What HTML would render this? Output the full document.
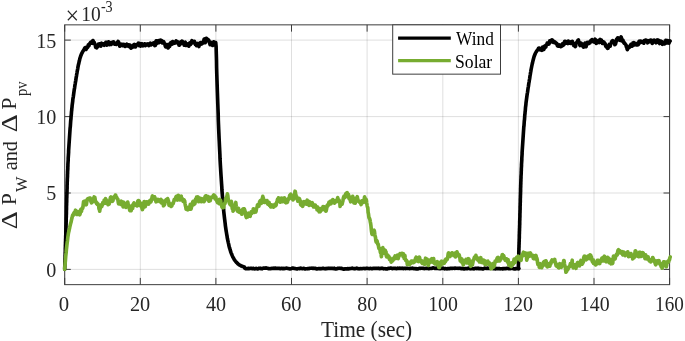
<!DOCTYPE html>
<html><head><meta charset="utf-8"><title>Wind and Solar</title>
<style>html,body{margin:0;padding:0;background:#fff}svg{display:block}</style></head>
<body>
<svg width="685" height="341" viewBox="0 0 685 341">
<rect width="685" height="341" fill="#fff"/>
<path d="M64.7,24.85 V284.7 M140.3,24.85 V284.7 M215.9,24.85 V284.7 M291.5,24.85 V284.7 M367.1,24.85 V284.7 M442.8,24.85 V284.7 M518.4,24.85 V284.7 M594.0,24.85 V284.7 M669.6,24.85 V284.7" stroke="#262626" stroke-opacity="0.15" stroke-width="1" fill="none"/>
<path d="M64.7,269.4 H669.6 M64.7,193.0 H669.6 M64.7,116.6 H669.6 M64.7,40.1 H669.6" stroke="#262626" stroke-opacity="0.15" stroke-width="1" fill="none"/>
<rect x="64.7" y="24.85" width="604.9" height="259.8" fill="none" stroke="#3c3c3c" stroke-width="1"/>
<path d="M64.7,284.7 v-6.8 M64.7,24.85 v6.8 M140.3,284.7 v-6.8 M140.3,24.85 v6.8 M215.9,284.7 v-6.8 M215.9,24.85 v6.8 M291.5,284.7 v-6.8 M291.5,24.85 v6.8 M367.1,284.7 v-6.8 M367.1,24.85 v6.8 M442.8,284.7 v-6.8 M442.8,24.85 v6.8 M518.4,284.7 v-6.8 M518.4,24.85 v6.8 M594.0,284.7 v-6.8 M594.0,24.85 v6.8 M669.6,284.7 v-6.8 M669.6,24.85 v6.8 M64.7,269.4 h6.1 M669.6,269.4 h-6.1 M64.7,193.0 h6.1 M669.6,193.0 h-6.1 M64.7,116.6 h6.1 M669.6,116.6 h-6.1 M64.7,40.1 h6.1 M669.6,40.1 h-6.1" stroke="#3c3c3c" stroke-width="1" fill="none"/>
<path d="M64.7,269.3 L64.7,267.8 L64.8,266.3 L64.8,264.8 L64.9,263.3 L64.9,261.8 L65.0,260.3 L65.0,258.8 L65.1,257.3 L65.1,255.8 L65.2,254.3 L65.2,252.8 L65.3,251.3 L65.3,249.8 L65.3,248.3 L65.4,246.8 L65.4,245.3 L65.5,243.8 L65.5,242.3 L65.6,240.8 L65.6,239.3 L65.7,237.8 L65.7,236.3 L65.8,234.8 L65.8,233.3 L65.8,231.8 L65.9,230.3 L65.9,228.8 L66.0,227.3 L66.0,225.8 L66.1,224.3 L66.1,222.8 L66.2,221.3 L66.2,219.8 L66.2,218.3 L66.3,216.8 L66.3,215.3 L66.4,213.8 L66.4,212.3 L66.4,210.8 L66.5,209.3 L66.5,207.8 L66.5,206.3 L66.6,204.8 L66.6,203.3 L66.7,201.8 L66.7,200.3 L66.7,198.8 L66.8,197.3 L66.8,195.8 L66.9,194.3 L66.9,192.8 L67.0,191.3 L67.0,189.8 L67.1,188.3 L67.1,186.8 L67.1,185.3 L67.2,183.8 L67.2,182.3 L67.3,180.8 L67.3,179.3 L67.4,177.8 L67.5,176.3 L67.5,174.8 L67.6,173.3 L67.6,171.8 L67.7,170.3 L67.8,168.8 L67.8,167.3 L67.9,165.8 L67.9,164.3 L68.0,162.8 L68.1,161.3 L68.2,159.8 L68.2,158.3 L68.3,156.8 L68.4,155.3 L68.5,153.8 L68.6,152.3 L68.6,150.8 L68.7,149.3 L68.8,147.8 L68.9,146.3 L69.0,144.8 L69.1,143.3 L69.2,141.8 L69.3,140.3 L69.4,138.8 L69.5,137.3 L69.6,135.8 L69.7,134.3 L69.8,132.8 L69.9,131.3 L70.0,129.8 L70.1,128.3 L70.3,126.8 L70.4,125.3 L70.5,123.8 L70.6,122.3 L70.7,120.8 L70.9,119.3 L71.0,117.8 L71.1,116.3 L71.3,114.8 L71.4,113.3 L71.5,111.8 L71.7,110.3 L71.8,108.8 L72.0,107.3 L72.1,105.8 L72.3,104.3 L72.5,102.8 L72.7,101.3 L72.8,99.8 L73.0,98.3 L73.3,96.8 L73.5,95.3 L73.7,93.8 L73.9,92.3 L74.1,90.8 L74.3,89.3 L74.6,87.8 L74.8,86.3 L75.0,84.8 L75.3,83.3 L75.5,81.8 L75.8,80.3 L76.0,78.8 L76.2,77.3 L76.5,75.8 L76.7,74.3 L77.0,72.8 L77.2,71.3 L77.5,69.8 L77.8,68.3 L78.0,66.8 L78.3,65.3 L78.7,63.8 L79.0,62.3 L79.4,60.8 L79.7,59.3 L80.1,57.8 L80.6,56.3 L81.2,54.8 L81.8,53.3 L82.6,51.8 L83.6,50.3 L83.8,49.9 L84.1,49.5 L84.5,48.6 L84.8,48.0 L85.2,47.7 L85.5,47.6 L85.9,48.5 L86.2,49.4 L86.6,47.9 L86.9,47.1 L87.3,47.7 L87.6,47.3 L88.0,46.2 L88.3,44.9 L88.7,45.3 L89.0,45.6 L89.4,44.0 L89.7,43.7 L90.1,43.2 L90.4,42.7 L90.8,42.2 L91.1,42.4 L91.5,42.1 L91.8,43.2 L92.2,43.3 L92.5,41.8 L92.9,40.5 L93.2,41.0 L93.6,42.7 L93.9,43.0 L94.3,42.4 L94.6,43.6 L95.0,44.2 L95.3,45.4 L95.7,47.3 L96.0,46.5 L96.4,47.2 L96.7,47.8 L97.1,46.8 L97.4,46.8 L97.8,46.7 L98.1,45.7 L98.5,44.2 L98.8,45.1 L99.2,45.7 L99.5,43.9 L99.9,45.3 L100.2,45.0 L100.6,44.6 L100.9,46.1 L101.3,45.2 L101.6,43.2 L102.0,44.0 L102.3,44.5 L102.7,44.0 L103.0,44.3 L103.4,43.9 L103.7,44.8 L104.1,45.2 L104.4,43.6 L104.8,43.6 L105.1,43.2 L105.5,43.1 L105.8,42.3 L106.2,42.8 L106.5,43.8 L106.9,45.1 L107.2,44.8 L107.6,42.3 L107.9,42.4 L108.3,43.2 L108.6,41.8 L109.0,42.3 L109.3,43.5 L109.7,44.6 L110.0,44.0 L110.4,42.9 L110.7,42.7 L111.1,43.3 L111.4,44.4 L111.8,42.9 L112.1,42.5 L112.5,42.9 L112.8,42.6 L113.2,42.3 L113.5,41.8 L113.9,42.5 L114.2,42.9 L114.6,44.1 L114.9,43.8 L115.3,43.3 L115.6,43.7 L116.0,43.5 L116.3,44.4 L116.7,44.0 L117.0,43.7 L117.4,42.3 L117.7,42.6 L118.1,41.5 L118.4,41.8 L118.8,42.6 L119.1,43.2 L119.5,45.0 L119.8,46.2 L120.2,44.4 L120.5,44.1 L120.9,45.0 L121.2,45.1 L121.6,44.3 L121.9,44.4 L122.3,45.6 L122.6,45.7 L123.0,44.6 L123.3,45.1 L123.7,45.1 L124.0,44.4 L124.4,45.1 L124.7,45.0 L125.1,46.4 L125.4,46.3 L125.8,45.9 L126.1,45.2 L126.5,44.8 L126.8,44.2 L127.2,44.6 L127.5,46.0 L127.9,45.0 L128.2,46.1 L128.6,44.8 L128.9,46.0 L129.3,45.7 L129.6,46.9 L130.0,46.3 L130.3,45.2 L130.7,47.6 L131.0,48.2 L131.4,47.2 L131.7,46.8 L132.1,46.6 L132.4,46.1 L132.8,47.0 L133.1,45.8 L133.5,45.4 L133.8,44.8 L134.2,44.5 L134.5,44.8 L134.9,46.8 L135.2,46.5 L135.6,46.8 L135.9,45.7 L136.3,44.5 L136.6,44.5 L137.0,44.5 L137.3,45.0 L137.7,44.7 L138.0,44.2 L138.4,43.2 L138.7,43.9 L139.1,45.7 L139.4,44.0 L139.8,43.4 L140.1,45.2 L140.5,46.1 L140.8,44.2 L141.2,44.6 L141.5,44.2 L141.9,43.8 L142.2,45.7 L142.6,45.8 L142.9,45.4 L143.3,44.9 L143.6,45.6 L144.0,45.0 L144.3,44.8 L144.7,43.8 L145.0,43.9 L145.4,45.7 L145.7,44.8 L146.1,44.9 L146.4,44.7 L146.8,44.1 L147.1,44.1 L147.5,44.8 L147.8,44.1 L148.2,44.0 L148.5,44.5 L148.9,45.5 L149.2,45.3 L149.6,44.7 L149.9,43.5 L150.3,43.1 L150.6,44.9 L151.0,45.0 L151.3,43.7 L151.7,43.9 L152.0,44.2 L152.4,44.1 L152.7,43.7 L153.1,43.2 L153.4,44.2 L153.8,42.9 L154.1,44.4 L154.5,45.0 L154.8,45.6 L155.2,45.5 L155.5,45.0 L155.9,41.5 L156.2,40.8 L156.6,42.4 L156.9,41.8 L157.3,42.6 L157.6,43.0 L158.0,40.9 L158.3,40.7 L158.7,42.0 L159.0,42.5 L159.4,42.3 L159.7,42.1 L160.1,40.8 L160.4,40.2 L160.8,40.8 L161.1,40.3 L161.5,40.4 L161.8,42.4 L162.2,42.9 L162.5,43.0 L162.9,41.9 L163.2,41.7 L163.6,41.6 L163.9,42.1 L164.3,43.3 L164.6,43.5 L165.0,44.8 L165.3,46.1 L165.7,46.8 L166.0,44.5 L166.4,45.4 L166.7,45.3 L167.1,45.1 L167.4,44.6 L167.8,46.2 L168.1,47.9 L168.5,47.3 L168.8,46.5 L169.2,46.0 L169.5,46.5 L169.9,44.7 L170.2,43.2 L170.6,43.0 L170.9,42.7 L171.3,42.3 L171.6,42.4 L172.0,44.3 L172.3,43.3 L172.7,41.6 L173.0,41.9 L173.4,43.5 L173.7,43.0 L174.1,42.6 L174.4,42.4 L174.8,42.6 L175.1,43.0 L175.5,42.6 L175.8,41.7 L176.2,40.8 L176.5,41.9 L176.9,41.8 L177.2,42.8 L177.6,41.7 L177.9,42.4 L178.3,42.8 L178.6,42.6 L179.0,45.1 L179.3,45.2 L179.7,43.9 L180.0,44.6 L180.4,43.6 L180.7,41.9 L181.1,42.7 L181.4,42.9 L181.8,42.3 L182.1,41.2 L182.5,41.4 L182.8,42.1 L183.2,43.6 L183.5,43.7 L183.9,44.1 L184.2,45.2 L184.6,43.6 L184.9,42.6 L185.3,42.2 L185.6,45.0 L186.0,45.4 L186.3,45.2 L186.7,44.8 L187.0,44.2 L187.4,44.1 L187.7,43.9 L188.1,44.4 L188.4,45.1 L188.8,46.2 L189.1,45.4 L189.5,44.0 L189.8,42.9 L190.2,42.9 L190.5,44.4 L190.9,43.5 L191.2,42.4 L191.6,41.4 L191.9,40.7 L192.3,41.9 L192.6,42.8 L193.0,41.9 L193.3,41.7 L193.7,41.9 L194.0,42.1 L194.4,41.4 L194.7,42.6 L195.1,43.3 L195.4,44.5 L195.8,43.8 L196.1,44.9 L196.5,45.7 L196.8,44.1 L197.2,43.5 L197.5,44.2 L197.9,44.1 L198.2,43.7 L198.6,45.6 L198.9,46.5 L199.3,44.9 L199.6,43.7 L200.0,43.0 L200.3,43.7 L200.7,42.6 L201.0,42.8 L201.4,44.1 L201.7,42.6 L202.1,43.6 L202.4,43.5 L202.8,42.4 L203.1,42.4 L203.5,42.3 L203.8,40.5 L204.2,39.1 L204.5,38.9 L204.9,41.0 L205.2,42.7 L205.6,41.9 L205.9,39.3 L206.3,38.3 L206.6,38.5 L207.0,39.2 L207.3,39.1 L207.7,39.4 L208.0,39.6 L208.4,39.7 L208.7,40.6 L209.1,41.5 L209.4,42.2 L209.8,43.7 L210.1,44.7 L210.5,44.6 L210.8,43.7 L211.2,42.5 L211.5,43.8 L211.9,43.3 L212.2,43.4 L212.6,45.5 L212.9,45.3 L213.3,43.4 L213.6,41.8 L214.0,42.1 L214.3,42.2 L214.7,43.9 L215.0,44.5 L215.4,43.7 L215.7,42.5 L216.1,46.5 L216.3,53.8 L216.5,60.8 L216.6,67.6 L216.8,74.2 L217.0,80.6 L217.2,86.7 L217.4,92.7 L217.6,98.4 L217.8,104.0 L218.0,109.4 L218.2,114.6 L218.3,119.7 L218.5,124.6 L218.7,129.3 L218.9,133.8 L219.1,138.3 L219.3,142.5 L219.5,146.7 L219.7,150.6 L219.9,154.5 L220.0,158.2 L220.2,161.9 L220.4,165.4 L220.6,168.7 L220.8,172.0 L221.0,175.2 L221.2,178.2 L221.4,181.2 L221.6,184.1 L221.8,186.8 L221.9,189.5 L222.1,192.1 L222.3,194.6 L222.5,197.0 L222.7,199.4 L222.9,201.6 L223.1,203.8 L223.3,205.9 L223.5,208.0 L223.6,210.0 L223.8,211.9 L224.0,213.8 L224.2,215.5 L224.4,217.3 L224.6,219.0 L224.8,220.6 L225.0,222.2 L225.2,223.7 L225.3,225.1 L225.5,226.6 L225.7,227.9 L225.9,229.3 L226.1,230.6 L226.3,231.8 L226.5,233.0 L226.7,234.2 L226.9,235.3 L227.1,236.4 L227.2,237.4 L227.4,238.5 L227.6,239.4 L227.8,240.4 L228.0,241.3 L228.2,242.2 L228.4,243.1 L228.6,243.9 L228.8,244.7 L228.9,245.5 L229.1,246.2 L229.3,247.0 L229.5,247.7 L229.7,248.4 L229.9,249.0 L230.1,249.7 L230.3,250.3 L230.5,250.9 L230.6,251.5 L230.8,252.0 L231.0,252.6 L231.2,253.1 L231.4,253.6 L231.6,254.1 L231.8,254.5 L232.0,255.0 L232.2,255.4 L232.4,255.9 L232.5,256.3 L232.7,256.7 L232.9,257.1 L233.1,257.4 L233.3,257.8 L233.5,258.2 L233.7,258.5 L233.9,258.8 L234.1,259.1 L234.2,259.4 L234.4,259.7 L234.6,260.0 L234.8,260.3 L235.0,260.6 L235.2,260.8 L235.4,261.1 L235.6,261.3 L235.8,261.6 L235.9,261.8 L236.1,262.0 L236.3,262.2 L236.5,262.4 L236.7,262.6 L236.9,262.8 L237.1,263.0 L237.3,263.2 L237.5,263.4 L237.7,263.5 L237.8,263.7 L238.0,263.9 L238.2,264.0 L238.4,264.2 L238.6,264.3 L238.8,264.4 L239.0,264.6 L239.2,264.7 L239.4,264.8 L239.5,264.9 L239.7,265.1 L239.9,265.2 L240.1,265.3 L240.3,265.4 L240.5,265.5 L240.7,265.6 L240.9,265.7 L241.1,265.8 L241.2,265.9 L241.4,265.9 L241.6,266.0 L241.8,266.1 L242.0,266.2 L242.2,266.3 L242.4,266.3 L242.6,266.4 L242.8,266.5 L242.9,266.5 L243.1,266.6 L243.3,266.7 L243.5,266.7 L243.7,266.8 L243.9,266.8 L244.1,266.9 L244.3,267.0 L244.6,268.1 L245.1,268.3 L245.6,268.6 L246.1,268.5 L246.6,268.5 L247.1,268.6 L247.6,268.6 L248.1,268.3 L248.6,268.4 L249.1,268.6 L249.6,268.5 L250.1,268.4 L250.6,268.5 L251.1,268.3 L251.6,268.4 L252.1,268.6 L252.6,268.7 L253.1,268.3 L253.6,268.4 L254.1,268.6 L254.6,268.8 L255.1,268.8 L255.6,268.7 L256.1,268.4 L256.6,268.7 L257.1,268.8 L257.6,268.8 L258.1,268.8 L258.6,268.4 L259.1,268.3 L259.6,268.3 L260.1,268.2 L260.6,268.3 L261.1,268.6 L261.6,268.7 L262.1,268.8 L262.6,268.5 L263.1,268.1 L263.6,268.1 L264.1,268.0 L264.6,268.0 L265.1,268.2 L265.6,268.0 L266.1,267.9 L266.6,268.1 L267.1,268.2 L267.6,268.3 L268.1,268.5 L268.6,268.6 L269.1,268.7 L269.6,268.7 L270.1,268.6 L270.6,268.6 L271.1,268.6 L271.6,268.4 L272.1,268.4 L272.6,268.4 L273.1,268.3 L273.6,268.2 L274.1,268.5 L274.6,268.4 L275.1,268.1 L275.6,268.1 L276.1,268.3 L276.6,268.5 L277.1,268.4 L277.6,268.4 L278.1,268.4 L278.6,268.4 L279.1,268.3 L279.6,268.3 L280.1,268.6 L280.6,268.6 L281.1,268.3 L281.6,268.3 L282.1,268.5 L282.6,268.6 L283.1,268.4 L283.6,268.5 L284.1,268.6 L284.6,268.5 L285.1,268.4 L285.6,268.4 L286.1,268.2 L286.6,268.1 L287.1,268.3 L287.6,268.5 L288.1,268.5 L288.6,268.5 L289.1,268.7 L289.6,268.9 L290.1,268.9 L290.6,268.8 L291.1,268.6 L291.6,268.6 L292.1,268.2 L292.6,268.0 L293.1,268.0 L293.6,268.4 L294.1,268.4 L294.6,268.5 L295.1,268.5 L295.6,268.7 L296.1,268.7 L296.6,268.8 L297.1,269.0 L297.6,268.8 L298.1,268.5 L298.6,268.5 L299.1,268.5 L299.6,268.6 L300.1,268.3 L300.6,268.1 L301.1,268.4 L301.6,268.5 L302.1,268.6 L302.6,268.6 L303.1,268.5 L303.6,268.4 L304.1,268.4 L304.6,268.8 L305.1,269.0 L305.6,268.9 L306.1,268.7 L306.6,268.7 L307.1,268.8 L307.6,268.5 L308.1,268.6 L308.6,268.7 L309.1,268.6 L309.6,268.4 L310.1,268.3 L310.6,268.2 L311.1,268.2 L311.6,268.2 L312.1,268.1 L312.6,268.3 L313.1,268.5 L313.6,268.2 L314.1,268.3 L314.6,268.4 L315.1,268.3 L315.6,268.5 L316.1,268.6 L316.6,269.0 L317.1,268.9 L317.6,268.8 L318.1,268.6 L318.6,268.6 L319.1,268.5 L319.6,268.6 L320.1,268.8 L320.6,268.5 L321.1,268.7 L321.6,268.6 L322.1,268.6 L322.6,268.4 L323.1,268.3 L323.6,268.4 L324.1,268.6 L324.6,268.7 L325.1,268.8 L325.6,268.6 L326.1,268.4 L326.6,268.6 L327.1,268.6 L327.6,268.4 L328.1,268.4 L328.6,268.5 L329.1,268.4 L329.6,268.3 L330.1,268.4 L330.6,268.5 L331.1,268.3 L331.6,268.5 L332.1,268.4 L332.6,268.4 L333.1,268.6 L333.6,268.5 L334.1,268.2 L334.6,268.4 L335.1,268.8 L335.6,269.0 L336.1,268.8 L336.6,268.8 L337.1,268.7 L337.6,268.4 L338.1,268.3 L338.6,268.3 L339.1,268.2 L339.6,268.3 L340.1,268.4 L340.6,268.4 L341.1,268.3 L341.6,268.4 L342.1,268.7 L342.6,268.8 L343.1,269.0 L343.6,269.1 L344.1,269.1 L344.6,269.0 L345.1,268.8 L345.6,268.8 L346.1,268.8 L346.6,269.0 L347.1,269.0 L347.6,268.5 L348.1,268.6 L348.6,268.8 L349.1,268.8 L349.6,268.7 L350.1,268.5 L350.6,268.5 L351.1,268.5 L351.6,268.4 L352.1,268.5 L352.6,268.2 L353.1,268.5 L353.6,268.5 L354.1,268.8 L354.6,268.7 L355.1,268.5 L355.6,268.6 L356.1,268.4 L356.6,268.2 L357.1,268.3 L357.6,268.5 L358.1,268.7 L358.6,268.8 L359.1,268.7 L359.6,268.8 L360.1,268.6 L360.6,268.6 L361.1,268.7 L361.6,268.7 L362.1,268.6 L362.6,268.5 L363.1,268.5 L363.6,268.5 L364.1,268.4 L364.6,268.6 L365.1,268.6 L365.6,268.5 L366.1,268.4 L366.6,268.5 L367.1,268.4 L367.6,268.4 L368.1,268.5 L368.6,268.5 L369.1,268.6 L369.6,268.6 L370.1,268.4 L370.6,268.4 L371.1,268.6 L371.6,268.6 L372.1,268.7 L372.6,268.5 L373.1,268.4 L373.6,268.3 L374.1,268.3 L374.6,268.5 L375.1,268.5 L375.6,268.4 L376.1,268.5 L376.6,268.5 L377.1,268.3 L377.6,268.3 L378.1,268.3 L378.6,268.2 L379.1,268.3 L379.6,268.7 L380.1,268.5 L380.6,268.5 L381.1,268.2 L381.6,268.3 L382.1,268.2 L382.6,268.3 L383.1,268.6 L383.6,268.8 L384.1,268.7 L384.6,268.7 L385.1,268.6 L385.6,268.8 L386.1,268.8 L386.6,268.8 L387.1,268.8 L387.6,268.8 L388.1,268.3 L388.6,268.4 L389.1,268.5 L389.6,268.3 L390.1,268.1 L390.6,268.1 L391.1,268.1 L391.6,268.4 L392.1,268.6 L392.6,268.6 L393.1,268.2 L393.6,268.2 L394.1,268.3 L394.6,268.5 L395.1,268.3 L395.6,268.4 L396.1,268.6 L396.6,268.7 L397.1,268.4 L397.6,268.2 L398.1,268.3 L398.6,268.3 L399.1,268.2 L399.6,268.4 L400.1,268.2 L400.6,268.3 L401.1,268.4 L401.6,268.4 L402.1,268.2 L402.6,268.4 L403.1,268.6 L403.6,268.3 L404.1,268.3 L404.6,268.3 L405.1,268.4 L405.6,268.6 L406.1,268.4 L406.6,268.3 L407.1,268.4 L407.6,268.4 L408.1,268.5 L408.6,268.5 L409.1,268.5 L409.6,268.6 L410.1,268.3 L410.6,268.4 L411.1,268.4 L411.6,268.4 L412.1,268.4 L412.6,268.2 L413.1,268.4 L413.6,268.6 L414.1,268.6 L414.6,268.5 L415.1,268.7 L415.6,268.8 L416.1,268.5 L416.6,268.8 L417.1,269.0 L417.6,269.0 L418.1,268.8 L418.6,268.6 L419.1,268.4 L419.6,268.4 L420.1,268.3 L420.6,268.4 L421.1,268.3 L421.6,268.2 L422.1,268.2 L422.6,268.3 L423.1,268.3 L423.6,268.4 L424.1,268.6 L424.6,268.5 L425.1,268.5 L425.6,268.5 L426.1,268.4 L426.6,268.4 L427.1,268.4 L427.6,268.4 L428.1,268.3 L428.6,268.6 L429.1,268.6 L429.6,268.5 L430.1,268.5 L430.6,268.5 L431.1,268.5 L431.6,268.3 L432.1,268.4 L432.6,268.0 L433.1,267.9 L433.6,268.0 L434.1,268.1 L434.6,268.3 L435.1,268.5 L435.6,268.4 L436.1,268.1 L436.6,268.2 L437.1,268.5 L437.6,268.4 L438.1,268.3 L438.6,268.5 L439.1,268.6 L439.6,268.7 L440.1,268.6 L440.6,268.6 L441.1,268.5 L441.6,268.2 L442.1,268.1 L442.6,268.3 L443.1,268.2 L443.6,268.4 L444.1,268.6 L444.6,268.8 L445.1,268.5 L445.6,268.6 L446.1,268.7 L446.6,268.8 L447.1,268.9 L447.6,268.7 L448.1,268.5 L448.6,268.5 L449.1,268.5 L449.6,268.6 L450.1,268.5 L450.6,268.3 L451.1,268.3 L451.6,268.5 L452.1,268.5 L452.6,268.4 L453.1,268.3 L453.6,268.2 L454.1,268.2 L454.6,268.5 L455.1,268.1 L455.6,268.2 L456.1,268.3 L456.6,268.2 L457.1,268.2 L457.6,268.3 L458.1,268.4 L458.6,268.3 L459.1,268.2 L459.6,268.3 L460.1,268.3 L460.6,268.4 L461.1,268.6 L461.6,268.7 L462.1,268.6 L462.6,268.4 L463.1,268.6 L463.6,268.8 L464.1,268.8 L464.6,268.8 L465.1,268.6 L465.6,268.5 L466.1,268.6 L466.6,268.5 L467.1,268.7 L467.6,268.5 L468.1,268.3 L468.6,268.1 L469.1,268.1 L469.6,268.3 L470.1,268.7 L470.6,268.8 L471.1,268.7 L471.6,268.6 L472.1,268.5 L472.6,268.7 L473.1,268.7 L473.6,268.8 L474.1,268.8 L474.6,268.6 L475.1,268.3 L475.6,268.3 L476.1,268.3 L476.6,268.3 L477.1,268.6 L477.6,268.4 L478.1,268.2 L478.6,268.5 L479.1,268.7 L479.6,268.6 L480.1,268.5 L480.6,268.5 L481.1,268.6 L481.6,268.7 L482.1,268.9 L482.6,268.9 L483.1,268.8 L483.6,268.8 L484.1,268.5 L484.6,268.1 L485.1,268.2 L485.6,268.3 L486.1,268.3 L486.6,268.4 L487.1,268.2 L487.6,268.1 L488.1,268.4 L488.6,268.4 L489.1,268.4 L489.6,268.5 L490.1,268.5 L490.6,268.3 L491.1,268.1 L491.6,268.1 L492.1,268.3 L492.6,268.3 L493.1,268.5 L493.6,268.7 L494.1,268.5 L494.6,268.5 L495.1,268.9 L495.6,268.6 L496.1,268.4 L496.6,268.6 L497.1,268.6 L497.6,268.5 L498.1,268.6 L498.6,268.5 L499.1,268.5 L499.6,268.7 L500.1,268.9 L500.6,268.7 L501.1,268.7 L501.6,268.7 L502.1,268.8 L502.6,268.6 L503.1,268.8 L503.6,268.6 L504.1,268.5 L504.6,268.6 L505.1,268.7 L505.6,268.7 L506.1,268.5 L506.6,268.2 L507.1,268.2 L507.6,268.4 L508.1,268.5 L508.6,268.6 L509.1,268.6 L509.6,268.7 L510.1,268.7 L510.6,268.4 L511.1,268.1 L511.6,268.0 L512.1,268.1 L512.6,268.5 L513.1,268.4 L513.6,268.8 L514.1,268.9 L514.6,269.0 L515.1,268.9 L515.6,268.6 L516.1,268.5 L516.6,268.6 L517.1,268.6 L517.6,268.6 L518.1,268.7 L518.6,268.9 L518.9,268.5 L518.3,268.0 L518.4,266.5 L518.4,265.0 L518.5,263.5 L518.5,262.0 L518.6,260.5 L518.6,259.0 L518.7,257.5 L518.7,256.0 L518.8,254.5 L518.8,253.0 L518.8,251.5 L518.9,250.0 L518.9,248.5 L519.0,247.0 L519.0,245.5 L519.1,244.0 L519.1,242.5 L519.2,241.0 L519.2,239.5 L519.3,238.0 L519.3,236.5 L519.3,235.0 L519.4,233.5 L519.4,232.0 L519.5,230.5 L519.5,229.0 L519.6,227.5 L519.6,226.0 L519.7,224.5 L519.7,223.0 L519.7,221.5 L519.8,220.0 L519.8,218.5 L519.9,217.0 L519.9,215.5 L519.9,214.0 L520.0,212.5 L520.0,211.0 L520.1,209.5 L520.1,208.0 L520.1,206.5 L520.2,205.0 L520.2,203.5 L520.3,202.0 L520.3,200.5 L520.3,199.0 L520.4,197.5 L520.4,196.0 L520.5,194.5 L520.5,193.0 L520.6,191.5 L520.6,190.0 L520.6,188.5 L520.7,187.0 L520.7,185.5 L520.8,184.0 L520.8,182.5 L520.9,181.0 L520.9,179.5 L521.0,178.0 L521.0,176.5 L521.1,175.0 L521.2,173.5 L521.2,172.0 L521.3,170.5 L521.3,169.0 L521.4,167.5 L521.5,166.0 L521.5,164.5 L521.6,163.0 L521.7,161.5 L521.8,160.0 L521.8,158.5 L521.9,157.0 L522.0,155.5 L522.1,154.0 L522.1,152.5 L522.2,151.0 L522.3,149.5 L522.4,148.0 L522.5,146.5 L522.6,145.0 L522.7,143.5 L522.8,142.0 L522.9,140.5 L523.0,139.0 L523.1,137.5 L523.2,136.0 L523.3,134.5 L523.4,133.0 L523.5,131.5 L523.6,130.0 L523.7,128.5 L523.8,127.0 L524.0,125.5 L524.1,124.0 L524.2,122.5 L524.3,121.0 L524.5,119.5 L524.6,118.0 L524.7,116.5 L524.8,115.0 L525.0,113.5 L525.1,112.0 L525.3,110.5 L525.4,109.0 L525.5,107.5 L525.7,106.0 L525.9,104.5 L526.0,103.0 L526.2,101.5 L526.4,100.0 L526.6,98.5 L526.8,97.0 L527.0,95.5 L527.2,94.0 L527.5,92.5 L527.7,91.0 L527.9,89.5 L528.1,88.0 L528.4,86.5 L528.6,85.0 L528.8,83.5 L529.1,82.0 L529.3,80.5 L529.6,79.0 L529.8,77.5 L530.0,76.0 L530.3,74.5 L530.5,73.0 L530.8,71.5 L531.0,70.0 L531.3,68.5 L531.6,67.0 L531.9,65.5 L532.2,64.0 L532.6,62.5 L532.9,61.0 L533.3,59.5 L533.7,58.0 L534.1,56.5 L534.7,55.0 L535.3,53.5 L536.1,52.0 L537.1,50.5 L537.4,50.3 L537.8,49.7 L538.1,49.1 L538.5,48.4 L538.8,48.1 L539.2,48.2 L539.5,48.6 L539.9,48.4 L540.2,49.9 L540.6,49.5 L540.9,49.8 L541.3,48.8 L541.6,48.9 L542.0,50.3 L542.3,48.6 L542.7,47.0 L543.0,47.2 L543.4,48.4 L543.7,49.6 L544.1,48.8 L544.4,48.0 L544.8,46.2 L545.1,46.6 L545.5,47.2 L545.8,47.1 L546.2,45.1 L546.5,45.1 L546.9,44.4 L547.2,43.1 L547.6,43.7 L547.9,43.4 L548.3,42.8 L548.6,44.2 L549.0,44.1 L549.3,42.1 L549.7,41.0 L550.0,42.6 L550.4,42.0 L550.7,42.1 L551.1,41.8 L551.4,40.1 L551.8,40.4 L552.1,39.8 L552.5,40.2 L552.8,40.7 L553.2,41.4 L553.5,42.5 L553.9,41.9 L554.2,41.5 L554.6,41.9 L554.9,42.7 L555.3,42.3 L555.6,42.8 L556.0,43.4 L556.3,43.2 L556.7,43.4 L557.0,43.8 L557.4,45.7 L557.7,45.9 L558.1,45.2 L558.4,45.2 L558.8,46.2 L559.1,45.7 L559.5,45.0 L559.8,45.4 L560.2,45.9 L560.5,46.5 L560.9,46.0 L561.2,46.5 L561.6,44.7 L561.9,44.6 L562.3,44.0 L562.6,45.6 L563.0,44.4 L563.3,44.2 L563.7,44.9 L564.0,44.2 L564.4,41.8 L564.7,41.4 L565.1,41.4 L565.4,42.9 L565.8,43.3 L566.1,42.8 L566.5,42.2 L566.8,41.9 L567.2,41.7 L567.5,43.1 L567.9,43.5 L568.2,41.0 L568.6,42.0 L568.9,42.7 L569.3,43.1 L569.6,42.0 L570.0,42.1 L570.3,42.0 L570.7,43.4 L571.0,43.2 L571.4,42.8 L571.7,43.0 L572.1,42.1 L572.4,41.4 L572.8,43.3 L573.1,44.0 L573.5,44.1 L573.8,45.5 L574.2,45.6 L574.5,43.7 L574.9,44.2 L575.2,46.6 L575.6,46.4 L575.9,43.8 L576.3,42.7 L576.6,42.7 L577.0,42.4 L577.3,41.5 L577.7,41.7 L578.0,40.2 L578.4,39.9 L578.7,41.9 L579.1,41.9 L579.4,43.2 L579.8,45.0 L580.1,45.5 L580.5,44.3 L580.8,43.6 L581.2,43.1 L581.5,45.1 L581.9,44.9 L582.2,43.9 L582.6,45.2 L582.9,46.4 L583.3,46.8 L583.6,47.1 L584.0,47.0 L584.3,44.8 L584.7,44.0 L585.0,43.2 L585.4,44.5 L585.7,45.9 L586.1,46.6 L586.4,45.0 L586.8,42.7 L587.1,42.8 L587.5,43.4 L587.8,42.3 L588.2,42.3 L588.5,43.0 L588.9,43.6 L589.2,42.8 L589.6,42.2 L589.9,42.9 L590.3,41.8 L590.6,41.0 L591.0,40.3 L591.3,40.7 L591.7,41.3 L592.0,39.5 L592.4,40.3 L592.7,41.4 L593.1,40.9 L593.4,40.8 L593.8,40.3 L594.1,42.1 L594.5,42.2 L594.8,40.7 L595.2,39.2 L595.5,39.9 L595.9,42.7 L596.2,43.4 L596.6,43.0 L596.9,43.0 L597.3,41.5 L597.6,41.5 L598.0,41.9 L598.3,41.7 L598.7,40.4 L599.0,42.2 L599.4,42.5 L599.7,40.0 L600.1,39.5 L600.4,40.9 L600.8,40.0 L601.1,39.8 L601.5,42.1 L601.8,42.4 L602.2,42.2 L602.5,43.5 L602.9,42.5 L603.2,41.7 L603.6,42.4 L603.9,42.1 L604.3,42.7 L604.6,43.9 L605.0,43.5 L605.3,44.2 L605.7,46.2 L606.0,46.4 L606.4,46.5 L606.7,46.8 L607.1,47.7 L607.4,48.3 L607.8,47.6 L608.1,48.1 L608.5,45.9 L608.8,45.3 L609.2,44.5 L609.5,45.0 L609.9,46.1 L610.2,46.2 L610.6,44.2 L610.9,43.8 L611.3,43.0 L611.6,41.8 L612.0,41.1 L612.3,41.5 L612.7,40.7 L613.0,42.1 L613.4,42.5 L613.7,41.9 L614.1,41.4 L614.4,42.2 L614.8,44.7 L615.1,43.3 L615.5,44.1 L615.8,42.9 L616.2,40.5 L616.5,39.4 L616.9,40.8 L617.2,40.3 L617.6,37.7 L617.9,37.7 L618.3,39.0 L618.6,39.2 L619.0,39.6 L619.3,38.3 L619.7,38.4 L620.0,38.2 L620.4,40.3 L620.7,38.0 L621.1,37.0 L621.4,37.8 L621.8,39.3 L622.1,40.9 L622.5,39.8 L622.8,39.9 L623.2,41.1 L623.5,42.4 L623.9,42.1 L624.2,43.3 L624.6,43.6 L624.9,43.4 L625.3,44.1 L625.6,44.6 L626.0,44.9 L626.3,46.8 L626.7,46.3 L627.0,48.8 L627.4,49.6 L627.7,48.4 L628.1,47.1 L628.4,47.2 L628.8,47.7 L629.1,47.7 L629.5,47.2 L629.8,47.0 L630.2,45.6 L630.5,45.3 L630.9,44.4 L631.2,45.9 L631.6,45.6 L631.9,45.0 L632.3,46.1 L632.6,44.9 L633.0,42.8 L633.3,42.8 L633.7,42.6 L634.0,44.9 L634.4,45.0 L634.7,43.7 L635.1,43.3 L635.4,43.4 L635.8,44.1 L636.1,44.8 L636.5,44.9 L636.8,43.7 L637.2,44.9 L637.5,43.4 L637.9,43.9 L638.2,44.7 L638.6,43.8 L638.9,41.7 L639.3,41.2 L639.6,41.4 L640.0,42.2 L640.3,42.7 L640.7,41.0 L641.0,41.8 L641.4,42.0 L641.7,41.6 L642.1,41.6 L642.4,42.3 L642.8,42.3 L643.1,42.6 L643.5,43.0 L643.8,43.2 L644.2,40.7 L644.5,42.2 L644.9,41.5 L645.2,40.9 L645.6,40.1 L645.9,40.2 L646.3,40.7 L646.6,41.1 L647.0,41.4 L647.3,40.7 L647.7,42.8 L648.0,42.5 L648.4,41.6 L648.7,41.0 L649.1,40.7 L649.4,40.6 L649.8,41.2 L650.1,41.7 L650.5,41.2 L650.8,40.0 L651.2,40.4 L651.5,40.4 L651.9,41.9 L652.2,43.4 L652.6,43.2 L652.9,41.6 L653.3,40.5 L653.6,40.4 L654.0,40.2 L654.3,41.9 L654.7,41.5 L655.0,41.8 L655.4,41.5 L655.7,42.2 L656.1,42.8 L656.4,40.9 L656.8,40.1 L657.1,40.1 L657.5,41.2 L657.8,40.0 L658.2,40.0 L658.5,40.5 L658.9,40.6 L659.2,43.0 L659.6,43.6 L659.9,41.8 L660.3,42.5 L660.6,42.2 L661.0,41.2 L661.3,41.8 L661.7,42.2 L662.0,42.7 L662.4,44.3 L662.7,42.1 L663.1,43.4 L663.4,43.9 L663.8,42.9 L664.1,43.3 L664.5,43.9 L664.8,43.3 L665.2,43.3 L665.5,42.4 L665.9,40.4 L666.2,43.0 L666.6,42.9 L666.9,43.0 L667.3,42.4 L667.6,40.5 L668.0,41.1 L668.3,41.2 L668.7,41.9 L669.0,43.2 L669.4,42.0 L669.7,41.6 L670.1,41.0" stroke="#000" stroke-width="3.65" fill="none" stroke-linejoin="round" stroke-linecap="round"/>
<path d="M64.7,269.3 L65.0,264.9 L65.4,260.5 L65.7,256.5 L66.1,253.0 L66.4,249.5 L66.8,246.0 L67.1,243.2 L67.5,240.4 L67.8,237.6 L68.2,234.8 L68.5,232.9 L68.9,231.3 L69.2,229.7 L69.6,228.1 L69.9,226.5 L70.3,224.9 L70.6,223.6 L71.0,222.3 L71.3,220.8 L71.7,219.1 L72.0,218.0 L72.4,216.0 L72.7,215.0 L73.1,215.5 L73.4,214.4 L73.8,213.3 L74.1,212.8 L74.5,212.5 L74.8,211.9 L75.2,211.8 L75.5,210.2 L75.9,210.6 L76.2,214.0 L76.6,214.4 L76.9,213.6 L77.3,212.6 L77.6,211.8 L78.0,211.7 L78.3,214.5 L78.7,214.5 L79.0,214.3 L79.4,214.5 L79.7,214.8 L80.1,213.8 L80.4,212.6 L80.8,209.4 L81.1,210.7 L81.5,211.4 L81.8,208.8 L82.2,208.0 L82.5,208.6 L82.9,207.6 L83.2,204.8 L83.6,201.6 L83.9,202.9 L84.3,201.3 L84.6,201.2 L85.0,202.5 L85.3,202.3 L85.7,204.7 L86.0,204.8 L86.4,204.5 L86.7,202.5 L87.1,199.8 L87.4,199.1 L87.8,198.8 L88.1,199.4 L88.5,199.0 L88.8,199.3 L89.2,199.4 L89.5,198.1 L89.9,198.0 L90.2,198.1 L90.6,200.6 L90.9,201.3 L91.3,202.5 L91.6,202.9 L92.0,201.7 L92.3,201.3 L92.7,199.4 L93.0,201.5 L93.4,201.0 L93.7,198.2 L94.1,197.0 L94.4,197.9 L94.8,197.3 L95.1,198.9 L95.5,201.8 L95.8,201.7 L96.2,201.7 L96.5,203.4 L96.9,202.8 L97.2,204.3 L97.6,203.9 L97.9,203.8 L98.3,205.1 L98.6,205.5 L99.0,209.0 L99.3,209.0 L99.7,211.2 L100.0,208.8 L100.4,208.3 L100.7,205.6 L101.1,204.8 L101.4,206.7 L101.8,206.6 L102.1,204.3 L102.5,205.0 L102.8,202.5 L103.2,202.4 L103.5,202.9 L103.9,202.1 L104.2,200.1 L104.6,203.1 L104.9,202.1 L105.3,199.8 L105.6,198.7 L106.0,199.5 L106.3,200.3 L106.7,203.4 L107.0,202.5 L107.4,201.0 L107.7,202.5 L108.1,204.7 L108.4,202.8 L108.8,202.3 L109.1,204.1 L109.5,202.8 L109.8,200.9 L110.2,198.7 L110.5,197.4 L110.9,197.0 L111.2,197.8 L111.6,198.9 L111.9,200.4 L112.3,201.3 L112.6,201.2 L113.0,200.5 L113.3,197.9 L113.7,197.2 L114.0,196.9 L114.4,196.4 L114.7,196.2 L115.1,196.1 L115.4,195.0 L115.8,195.5 L116.1,197.4 L116.5,197.7 L116.8,197.5 L117.2,199.0 L117.5,199.1 L117.9,199.2 L118.2,202.0 L118.6,203.8 L118.9,201.2 L119.3,202.5 L119.6,203.1 L120.0,203.8 L120.3,202.4 L120.7,204.5 L121.0,202.7 L121.4,201.2 L121.7,202.0 L122.1,204.0 L122.4,204.7 L122.8,205.6 L123.1,206.9 L123.5,203.7 L123.8,202.2 L124.2,204.0 L124.5,204.9 L124.9,205.4 L125.2,204.5 L125.6,207.0 L125.9,207.4 L126.3,207.2 L126.6,203.8 L127.0,204.1 L127.3,203.3 L127.7,202.0 L128.0,203.2 L128.4,206.2 L128.7,205.5 L129.1,206.0 L129.4,208.9 L129.8,210.5 L130.1,210.7 L130.5,209.1 L130.8,210.1 L131.2,210.7 L131.5,207.2 L131.9,205.8 L132.2,207.8 L132.6,208.5 L132.9,204.6 L133.3,204.3 L133.6,203.6 L134.0,202.9 L134.3,204.2 L134.7,205.3 L135.0,204.6 L135.4,204.3 L135.7,205.1 L136.1,204.4 L136.4,204.8 L136.8,205.0 L137.1,206.0 L137.5,204.7 L137.8,201.2 L138.2,200.7 L138.5,201.2 L138.9,200.8 L139.2,201.2 L139.6,203.1 L139.9,205.6 L140.3,204.7 L140.6,203.6 L141.0,203.4 L141.3,204.0 L141.7,206.6 L142.0,208.4 L142.4,209.6 L142.7,207.9 L143.1,208.3 L143.4,206.5 L143.8,203.7 L144.1,201.6 L144.5,201.6 L144.8,205.3 L145.2,206.7 L145.5,205.6 L145.9,205.0 L146.2,203.0 L146.6,201.9 L146.9,201.9 L147.3,203.9 L147.6,203.7 L148.0,202.9 L148.3,203.1 L148.7,204.0 L149.0,202.8 L149.4,201.1 L149.7,202.4 L150.1,200.6 L150.4,200.2 L150.8,201.9 L151.1,201.5 L151.5,199.5 L151.8,198.5 L152.2,196.5 L152.5,196.0 L152.9,196.4 L153.2,198.9 L153.6,197.0 L153.9,198.6 L154.3,197.5 L154.6,196.8 L155.0,197.9 L155.3,199.1 L155.7,200.6 L156.0,201.8 L156.4,201.7 L156.7,201.2 L157.1,199.8 L157.4,200.8 L157.8,200.3 L158.1,199.4 L158.5,199.7 L158.8,200.1 L159.2,200.9 L159.5,201.5 L159.9,200.7 L160.2,200.7 L160.6,201.7 L160.9,199.4 L161.3,201.0 L161.6,202.9 L162.0,200.2 L162.3,201.1 L162.7,203.3 L163.0,202.8 L163.4,205.8 L163.7,201.8 L164.1,204.8 L164.4,204.9 L164.8,203.9 L165.1,201.8 L165.5,201.2 L165.8,200.1 L166.2,201.0 L166.5,199.4 L166.9,200.2 L167.2,200.8 L167.6,198.6 L167.9,199.3 L168.3,200.7 L168.6,201.3 L169.0,205.3 L169.3,205.4 L169.7,203.5 L170.0,204.8 L170.4,205.0 L170.7,206.0 L171.1,206.4 L171.4,205.6 L171.8,206.0 L172.1,203.8 L172.5,204.0 L172.8,203.1 L173.2,203.6 L173.5,202.3 L173.9,201.2 L174.2,199.7 L174.6,200.1 L174.9,199.7 L175.3,198.4 L175.6,198.2 L176.0,196.8 L176.3,196.4 L176.7,197.7 L177.0,198.6 L177.4,200.1 L177.7,198.8 L178.1,195.3 L178.4,195.3 L178.8,198.3 L179.1,198.3 L179.5,198.5 L179.8,200.0 L180.2,198.3 L180.5,197.3 L180.9,196.4 L181.2,196.1 L181.6,199.1 L181.9,198.3 L182.3,198.6 L182.6,199.4 L183.0,201.2 L183.3,201.4 L183.7,200.9 L184.0,199.7 L184.4,200.9 L184.7,201.1 L185.1,204.1 L185.4,205.7 L185.8,207.1 L186.1,209.2 L186.5,209.4 L186.8,208.8 L187.2,208.2 L187.5,208.1 L187.9,209.8 L188.2,209.6 L188.6,207.1 L188.9,208.9 L189.3,209.0 L189.6,209.1 L190.0,207.2 L190.3,204.3 L190.7,205.1 L191.0,209.1 L191.4,207.6 L191.7,205.2 L192.1,206.1 L192.4,204.1 L192.8,201.9 L193.1,201.3 L193.5,201.3 L193.8,203.7 L194.2,204.2 L194.5,203.7 L194.9,203.6 L195.2,202.2 L195.6,199.1 L195.9,199.2 L196.3,198.3 L196.6,197.1 L197.0,197.6 L197.3,198.4 L197.7,197.8 L198.0,196.9 L198.4,198.9 L198.7,201.7 L199.1,198.5 L199.4,197.9 L199.8,200.2 L200.1,201.4 L200.5,200.9 L200.8,199.9 L201.2,201.7 L201.5,199.9 L201.9,198.7 L202.2,199.1 L202.6,200.1 L202.9,201.4 L203.3,201.3 L203.6,200.8 L204.0,201.6 L204.3,201.0 L204.7,200.5 L205.0,196.9 L205.4,196.1 L205.7,197.6 L206.1,195.8 L206.4,196.5 L206.8,197.3 L207.1,197.2 L207.5,198.2 L207.8,199.3 L208.2,196.5 L208.5,200.1 L208.9,201.2 L209.2,199.6 L209.6,198.5 L209.9,200.0 L210.3,200.7 L210.6,197.5 L211.0,197.5 L211.3,197.1 L211.7,197.1 L212.0,197.0 L212.4,197.4 L212.7,196.6 L213.1,196.5 L213.4,195.4 L213.8,194.9 L214.1,195.7 L214.5,195.7 L214.8,195.8 L215.2,199.0 L215.5,197.9 L215.9,197.1 L216.2,199.9 L216.6,199.7 L216.9,201.3 L217.3,202.1 L217.6,202.7 L218.0,202.6 L218.3,201.6 L218.7,202.6 L219.0,203.5 L219.4,199.3 L219.7,201.2 L220.1,202.2 L220.4,200.1 L220.8,200.7 L221.1,204.7 L221.5,204.3 L221.8,206.6 L222.2,207.4 L222.5,207.4 L222.9,207.7 L223.2,207.7 L223.6,207.5 L223.9,205.9 L224.3,204.3 L224.6,203.4 L225.0,203.5 L225.3,201.4 L225.7,198.3 L226.0,198.3 L226.4,199.1 L226.7,197.2 L227.1,195.4 L227.4,193.9 L227.8,195.7 L228.1,198.4 L228.5,200.3 L228.8,201.0 L229.2,202.7 L229.5,203.3 L229.9,204.2 L230.2,204.8 L230.6,203.8 L230.9,201.5 L231.3,201.3 L231.6,202.9 L232.0,206.2 L232.3,208.7 L232.7,207.6 L233.0,211.2 L233.4,210.5 L233.7,209.0 L234.1,206.0 L234.4,206.0 L234.8,205.4 L235.1,205.2 L235.5,203.6 L235.8,202.4 L236.2,206.3 L236.5,208.1 L236.9,208.9 L237.2,210.4 L237.6,211.3 L237.9,210.4 L238.3,208.3 L238.6,208.5 L239.0,212.1 L239.3,212.3 L239.7,211.4 L240.0,211.1 L240.4,211.8 L240.7,211.8 L241.1,210.8 L241.4,211.3 L241.8,214.2 L242.1,213.2 L242.5,210.8 L242.8,209.1 L243.2,208.9 L243.5,209.9 L243.9,209.7 L244.2,208.8 L244.6,209.8 L244.9,210.7 L245.3,211.7 L245.6,215.2 L246.0,216.6 L246.3,217.5 L246.7,215.6 L247.0,215.7 L247.4,217.1 L247.7,215.4 L248.1,213.6 L248.4,213.3 L248.8,214.5 L249.1,214.7 L249.5,214.6 L249.8,216.2 L250.2,216.3 L250.5,214.6 L250.9,212.9 L251.2,211.8 L251.6,212.5 L251.9,213.2 L252.3,212.6 L252.6,212.4 L253.0,210.7 L253.3,208.8 L253.7,209.0 L254.0,211.2 L254.4,211.8 L254.7,212.2 L255.1,210.9 L255.4,211.6 L255.8,211.9 L256.1,211.1 L256.5,208.4 L256.8,207.7 L257.2,206.7 L257.5,204.8 L257.9,205.4 L258.2,205.6 L258.6,204.7 L258.9,206.2 L259.3,203.6 L259.6,201.9 L260.0,201.1 L260.3,200.6 L260.7,201.6 L261.0,202.2 L261.4,203.3 L261.7,202.1 L262.1,200.5 L262.4,198.1 L262.8,196.3 L263.1,197.7 L263.5,198.6 L263.8,200.9 L264.2,201.2 L264.5,202.5 L264.9,202.3 L265.2,201.8 L265.6,201.0 L265.9,201.0 L266.3,201.9 L266.6,202.0 L267.0,200.5 L267.3,202.7 L267.7,204.1 L268.0,203.5 L268.4,202.8 L268.7,202.4 L269.1,202.4 L269.4,205.4 L269.8,205.0 L270.1,205.6 L270.5,206.7 L270.8,206.9 L271.2,204.9 L271.5,205.9 L271.9,205.7 L272.2,205.1 L272.6,205.0 L272.9,205.4 L273.3,207.2 L273.6,206.7 L274.0,206.0 L274.3,206.6 L274.7,205.7 L275.0,204.3 L275.4,204.5 L275.7,205.7 L276.1,205.2 L276.4,203.6 L276.8,202.0 L277.1,201.0 L277.5,199.4 L277.8,199.9 L278.2,199.4 L278.5,197.9 L278.9,199.9 L279.2,201.4 L279.6,200.3 L279.9,199.7 L280.3,202.2 L280.6,200.3 L281.0,198.6 L281.3,198.1 L281.7,199.4 L282.0,201.1 L282.4,201.7 L282.7,200.4 L283.1,198.4 L283.4,198.6 L283.8,198.8 L284.1,198.9 L284.5,198.0 L284.8,200.4 L285.2,202.3 L285.5,202.4 L285.9,202.8 L286.2,201.0 L286.6,199.7 L286.9,200.2 L287.3,202.4 L287.6,201.7 L288.0,199.4 L288.3,199.7 L288.7,198.3 L289.0,199.1 L289.4,197.3 L289.7,195.4 L290.1,196.0 L290.4,194.7 L290.8,194.2 L291.1,195.0 L291.5,197.7 L291.8,198.2 L292.2,197.9 L292.5,198.3 L292.9,199.9 L293.2,197.5 L293.6,196.9 L293.9,199.0 L294.3,198.3 L294.6,195.1 L295.0,191.2 L295.3,191.4 L295.7,194.4 L296.0,196.1 L296.4,198.1 L296.7,196.5 L297.1,198.5 L297.4,198.9 L297.8,201.1 L298.1,200.4 L298.5,200.8 L298.8,199.0 L299.2,198.4 L299.5,198.9 L299.9,200.0 L300.2,201.1 L300.6,204.4 L300.9,205.0 L301.3,203.4 L301.6,201.9 L302.0,203.0 L302.3,204.1 L302.7,206.3 L303.0,205.2 L303.4,204.3 L303.7,202.4 L304.1,201.6 L304.4,201.8 L304.8,202.3 L305.1,203.8 L305.5,203.2 L305.8,201.8 L306.2,202.6 L306.5,204.1 L306.9,201.1 L307.2,200.2 L307.6,201.0 L307.9,201.2 L308.3,202.3 L308.6,204.6 L309.0,205.3 L309.3,201.6 L309.7,202.8 L310.0,203.9 L310.4,204.3 L310.7,204.4 L311.1,204.6 L311.4,205.2 L311.8,203.1 L312.1,202.6 L312.5,203.3 L312.8,204.4 L313.2,205.4 L313.5,207.0 L313.9,206.3 L314.2,206.3 L314.6,206.1 L314.9,205.1 L315.3,205.1 L315.6,205.7 L316.0,207.5 L316.3,207.4 L316.7,207.7 L317.0,209.7 L317.4,209.1 L317.7,207.1 L318.1,210.3 L318.4,209.8 L318.8,210.0 L319.1,211.8 L319.5,210.6 L319.8,210.1 L320.2,211.8 L320.5,208.5 L320.9,209.0 L321.2,210.3 L321.6,208.4 L321.9,208.6 L322.3,209.8 L322.6,209.7 L323.0,206.5 L323.3,206.7 L323.7,208.2 L324.0,207.7 L324.4,206.9 L324.7,208.8 L325.1,209.3 L325.4,210.0 L325.8,211.1 L326.1,211.1 L326.5,209.4 L326.8,207.5 L327.2,205.2 L327.5,205.8 L327.9,206.0 L328.2,204.7 L328.6,203.6 L328.9,202.4 L329.3,204.2 L329.6,203.6 L330.0,201.4 L330.3,201.3 L330.7,202.0 L331.0,203.8 L331.4,202.9 L331.7,201.4 L332.1,200.6 L332.4,200.2 L332.8,199.6 L333.1,201.4 L333.5,200.9 L333.8,202.1 L334.2,202.5 L334.5,203.1 L334.9,202.3 L335.2,202.4 L335.6,200.6 L335.9,201.4 L336.3,200.8 L336.6,200.6 L337.0,200.6 L337.3,200.3 L337.7,197.6 L338.0,199.4 L338.4,199.6 L338.7,201.8 L339.1,200.1 L339.4,201.3 L339.8,202.6 L340.1,206.5 L340.5,204.5 L340.8,204.7 L341.2,203.8 L341.5,203.1 L341.9,203.8 L342.2,204.0 L342.6,202.0 L342.9,200.9 L343.3,198.3 L343.6,197.1 L344.0,196.1 L344.3,197.0 L344.7,197.7 L345.0,196.8 L345.4,195.4 L345.7,193.8 L346.1,193.8 L346.4,195.5 L346.8,192.9 L347.1,192.6 L347.5,193.8 L347.8,194.8 L348.2,197.2 L348.5,194.4 L348.9,197.3 L349.2,198.8 L349.6,196.9 L349.9,197.4 L350.3,200.1 L350.6,201.8 L351.0,198.9 L351.3,198.2 L351.7,201.1 L352.0,201.3 L352.4,197.7 L352.7,196.4 L353.1,200.6 L353.4,201.5 L353.8,202.8 L354.1,201.7 L354.5,200.4 L354.8,200.6 L355.2,203.1 L355.5,202.5 L355.9,198.0 L356.2,198.2 L356.6,201.1 L356.9,198.4 L357.3,196.7 L357.6,198.7 L358.0,199.7 L358.3,200.4 L358.7,200.8 L359.0,201.5 L359.4,201.9 L359.7,202.5 L360.1,201.9 L360.4,202.3 L360.8,203.7 L361.1,204.6 L361.5,202.5 L361.8,200.9 L362.2,201.2 L362.5,201.7 L362.9,202.5 L363.2,202.5 L363.6,202.4 L363.9,201.6 L364.3,198.6 L364.6,196.9 L365.0,198.4 L365.3,199.4 L365.7,199.4 L366.0,199.2 L366.4,200.2 L366.7,203.0 L367.1,205.3 L367.4,206.8 L367.8,207.7 L368.1,212.3 L368.5,214.0 L368.8,216.7 L369.2,218.2 L369.5,218.3 L369.9,219.5 L370.2,221.3 L370.6,223.3 L370.9,225.4 L371.3,229.5 L371.6,231.9 L372.0,234.1 L372.3,234.4 L372.7,233.3 L373.0,232.4 L373.4,230.8 L373.7,230.7 L374.1,230.3 L374.4,231.1 L374.8,234.2 L375.1,236.1 L375.5,237.4 L375.8,240.5 L376.2,242.1 L376.5,240.9 L376.9,240.7 L377.2,241.5 L377.6,243.8 L377.9,244.5 L378.3,244.4 L378.6,247.0 L379.0,248.6 L379.3,248.0 L379.7,248.6 L380.0,249.8 L380.4,252.5 L380.7,251.8 L381.1,254.2 L381.4,256.7 L381.8,253.6 L382.1,251.4 L382.5,249.2 L382.8,247.5 L383.2,249.5 L383.5,250.5 L383.9,249.4 L384.2,251.2 L384.6,253.3 L384.9,252.9 L385.3,250.3 L385.6,251.2 L386.0,251.9 L386.3,255.8 L386.7,256.9 L387.0,256.9 L387.4,255.2 L387.7,255.1 L388.1,256.9 L388.4,257.1 L388.8,256.4 L389.1,258.1 L389.5,259.6 L389.8,259.6 L390.2,258.1 L390.5,258.9 L390.9,260.7 L391.2,262.1 L391.6,261.1 L391.9,260.1 L392.3,259.8 L392.6,261.0 L393.0,260.2 L393.3,259.5 L393.7,258.1 L394.0,258.3 L394.4,258.8 L394.7,256.9 L395.1,255.9 L395.4,257.0 L395.8,258.4 L396.1,257.6 L396.5,258.0 L396.8,256.5 L397.2,255.8 L397.5,255.1 L397.9,256.5 L398.2,258.6 L398.6,257.0 L398.9,256.3 L399.3,255.7 L399.6,254.4 L400.0,253.7 L400.3,254.0 L400.7,254.3 L401.0,253.6 L401.4,253.6 L401.7,253.3 L402.1,253.3 L402.4,254.3 L402.8,255.1 L403.1,256.5 L403.5,253.9 L403.8,255.9 L404.2,258.5 L404.5,256.8 L404.9,255.6 L405.2,258.0 L405.6,260.3 L405.9,259.8 L406.3,260.5 L406.6,260.5 L407.0,262.0 L407.3,264.4 L407.7,263.9 L408.0,262.0 L408.4,262.0 L408.7,263.1 L409.1,263.8 L409.4,264.7 L409.8,263.9 L410.1,262.3 L410.5,263.8 L410.8,263.2 L411.2,262.2 L411.5,261.1 L411.9,261.9 L412.2,262.5 L412.6,262.7 L412.9,261.3 L413.3,262.6 L413.6,262.6 L414.0,260.9 L414.3,260.7 L414.7,261.1 L415.0,261.6 L415.4,258.8 L415.7,258.0 L416.1,257.2 L416.4,258.1 L416.8,259.6 L417.1,258.5 L417.5,258.7 L417.8,258.8 L418.2,261.5 L418.5,261.6 L418.9,260.6 L419.2,257.1 L419.6,257.5 L419.9,260.8 L420.3,260.8 L420.6,261.1 L421.0,261.6 L421.3,260.5 L421.7,262.5 L422.0,263.0 L422.4,263.4 L422.7,262.7 L423.1,262.6 L423.4,261.3 L423.8,263.0 L424.1,264.1 L424.5,264.4 L424.8,263.8 L425.2,261.8 L425.5,258.2 L425.9,259.2 L426.2,258.6 L426.6,259.2 L426.9,259.6 L427.3,259.4 L427.6,261.5 L428.0,264.5 L428.3,265.4 L428.7,262.5 L429.0,261.7 L429.4,263.1 L429.7,260.8 L430.1,262.5 L430.4,260.9 L430.8,259.5 L431.1,261.6 L431.5,261.9 L431.8,258.7 L432.2,260.9 L432.5,260.7 L432.9,262.2 L433.2,260.1 L433.6,258.5 L433.9,261.2 L434.3,263.3 L434.6,263.5 L435.0,263.9 L435.3,264.0 L435.7,263.2 L436.0,263.6 L436.4,264.1 L436.7,263.5 L437.1,262.6 L437.4,261.7 L437.8,262.9 L438.1,264.9 L438.5,266.6 L438.8,267.3 L439.2,266.4 L439.5,267.5 L439.9,264.9 L440.2,263.4 L440.6,262.1 L440.9,265.2 L441.3,264.2 L441.6,261.2 L442.0,261.9 L442.3,263.6 L442.7,263.7 L443.0,263.2 L443.4,261.6 L443.7,261.5 L444.1,262.6 L444.4,263.2 L444.8,261.2 L445.1,260.2 L445.5,261.4 L445.8,259.1 L446.2,259.9 L446.5,259.3 L446.9,259.7 L447.2,259.2 L447.6,258.0 L447.9,256.1 L448.3,253.2 L448.6,252.9 L449.0,255.0 L449.3,256.1 L449.7,256.2 L450.0,256.4 L450.4,255.6 L450.7,254.6 L451.1,254.9 L451.4,253.6 L451.8,252.9 L452.1,252.8 L452.5,254.9 L452.8,254.1 L453.2,255.1 L453.5,254.1 L453.9,255.7 L454.2,254.2 L454.6,254.8 L454.9,253.0 L455.3,254.7 L455.6,256.9 L456.0,255.2 L456.3,254.9 L456.7,253.1 L457.0,251.8 L457.4,253.5 L457.7,254.5 L458.1,253.9 L458.4,255.6 L458.8,254.7 L459.1,254.7 L459.5,256.3 L459.8,257.6 L460.2,260.8 L460.5,258.5 L460.9,261.2 L461.2,261.7 L461.6,258.7 L461.9,259.0 L462.3,261.7 L462.6,262.3 L463.0,264.0 L463.3,265.0 L463.7,262.9 L464.0,261.1 L464.4,260.9 L464.7,261.4 L465.1,260.5 L465.4,261.0 L465.8,260.4 L466.1,259.4 L466.5,262.9 L466.8,263.0 L467.2,261.9 L467.5,259.2 L467.9,259.0 L468.2,258.7 L468.6,258.8 L468.9,259.1 L469.3,262.1 L469.6,264.0 L470.0,264.7 L470.3,264.7 L470.7,266.3 L471.0,264.1 L471.4,261.3 L471.7,261.3 L472.1,263.8 L472.4,264.9 L472.8,262.9 L473.1,261.2 L473.5,259.8 L473.8,259.8 L474.2,258.0 L474.5,257.2 L474.9,257.5 L475.2,258.6 L475.6,256.8 L475.9,255.4 L476.3,257.4 L476.6,257.1 L477.0,258.3 L477.3,259.1 L477.7,260.0 L478.0,259.6 L478.4,258.3 L478.7,258.5 L479.1,258.9 L479.4,262.0 L479.8,261.3 L480.1,261.1 L480.5,258.6 L480.8,257.7 L481.2,262.3 L481.5,262.4 L481.9,261.9 L482.2,261.9 L482.6,262.7 L482.9,262.0 L483.3,260.1 L483.6,262.0 L484.0,260.3 L484.3,260.4 L484.7,263.5 L485.0,264.4 L485.4,262.5 L485.7,261.3 L486.1,263.1 L486.4,264.3 L486.8,263.5 L487.1,261.5 L487.5,261.3 L487.8,261.2 L488.2,263.0 L488.5,264.2 L488.9,264.2 L489.2,262.5 L489.6,263.8 L489.9,264.9 L490.3,264.4 L490.6,266.1 L491.0,268.6 L491.3,268.6 L491.7,268.6 L492.0,267.1 L492.4,265.8 L492.7,263.6 L493.1,265.0 L493.4,267.1 L493.8,266.7 L494.1,266.3 L494.5,265.0 L494.8,263.0 L495.2,261.2 L495.5,261.3 L495.9,261.5 L496.2,260.5 L496.6,261.4 L496.9,258.8 L497.3,257.9 L497.6,257.5 L498.0,257.4 L498.3,257.8 L498.7,260.9 L499.0,259.9 L499.4,259.7 L499.7,260.9 L500.1,260.4 L500.4,258.4 L500.8,259.2 L501.1,258.0 L501.5,257.1 L501.8,256.9 L502.2,254.8 L502.5,254.7 L502.9,255.9 L503.2,256.5 L503.6,255.6 L503.9,256.2 L504.3,258.4 L504.6,259.2 L505.0,259.7 L505.3,260.2 L505.7,258.8 L506.0,258.8 L506.4,259.6 L506.7,259.0 L507.1,259.5 L507.4,262.0 L507.8,260.4 L508.1,259.7 L508.5,262.7 L508.8,264.9 L509.2,264.9 L509.5,265.5 L509.9,263.8 L510.2,262.9 L510.6,263.0 L510.9,265.1 L511.3,266.6 L511.6,263.9 L512.0,265.1 L512.3,262.5 L512.7,262.7 L513.0,264.3 L513.4,263.8 L513.7,261.6 L514.1,259.1 L514.4,260.2 L514.8,260.3 L515.1,262.5 L515.5,261.1 L515.8,259.9 L516.2,258.2 L516.5,257.7 L516.9,257.1 L517.2,258.8 L517.6,257.8 L517.9,257.7 L518.3,256.2 L518.6,256.6 L519.0,258.6 L519.3,256.7 L519.7,257.2 L520.0,260.1 L520.4,260.1 L520.7,260.4 L521.1,260.3 L521.4,257.3 L521.8,256.6 L522.1,254.7 L522.5,256.1 L522.8,255.6 L523.2,252.7 L523.5,252.2 L523.9,252.6 L524.2,254.6 L524.6,255.2 L524.9,252.8 L525.3,254.3 L525.6,253.1 L526.0,253.8 L526.3,255.2 L526.7,260.1 L527.0,259.2 L527.4,257.5 L527.7,256.4 L528.1,256.5 L528.4,253.2 L528.8,254.9 L529.1,256.5 L529.5,254.1 L529.8,253.4 L530.2,254.0 L530.5,252.9 L530.9,254.3 L531.2,256.0 L531.6,255.8 L531.9,255.7 L532.3,255.1 L532.6,255.7 L533.0,256.5 L533.3,258.6 L533.7,258.7 L534.0,256.9 L534.4,256.0 L534.7,258.5 L535.1,258.8 L535.4,255.8 L535.8,255.4 L536.1,255.8 L536.5,258.8 L536.8,258.0 L537.2,259.4 L537.5,262.3 L537.9,264.5 L538.2,263.8 L538.6,263.5 L538.9,264.3 L539.3,267.2 L539.6,267.4 L540.0,265.3 L540.3,263.7 L540.7,264.8 L541.0,266.6 L541.4,266.1 L541.7,267.6 L542.1,266.8 L542.4,265.8 L542.8,265.5 L543.1,264.3 L543.5,262.0 L543.8,263.0 L544.2,265.0 L544.5,261.3 L544.9,261.1 L545.2,263.1 L545.6,261.9 L545.9,260.8 L546.3,261.4 L546.6,264.8 L547.0,266.7 L547.3,266.8 L547.7,265.6 L548.0,265.6 L548.4,263.9 L548.7,264.8 L549.1,264.7 L549.4,265.5 L549.8,266.2 L550.1,265.2 L550.5,262.7 L550.8,263.8 L551.2,261.9 L551.5,260.8 L551.9,261.1 L552.2,259.9 L552.6,261.2 L552.9,261.6 L553.3,260.9 L553.6,261.4 L554.0,260.7 L554.3,260.2 L554.7,259.3 L555.0,261.4 L555.4,262.2 L555.7,263.8 L556.1,265.7 L556.4,266.0 L556.8,264.4 L557.1,264.3 L557.5,265.5 L557.8,266.9 L558.2,267.1 L558.5,267.7 L558.9,267.9 L559.2,266.7 L559.6,265.1 L559.9,263.7 L560.3,264.1 L560.6,265.7 L561.0,267.1 L561.3,267.3 L561.7,266.6 L562.0,265.9 L562.4,265.8 L562.7,264.1 L563.1,262.9 L563.4,262.0 L563.8,260.6 L564.1,260.7 L564.5,264.0 L564.8,265.9 L565.2,266.4 L565.5,268.6 L565.9,272.2 L566.2,271.1 L566.6,271.4 L566.9,270.8 L567.3,268.2 L567.6,268.7 L568.0,269.2 L568.3,268.3 L568.7,267.2 L569.0,266.7 L569.4,266.4 L569.7,266.7 L570.1,264.8 L570.4,263.6 L570.8,264.2 L571.1,264.9 L571.5,263.9 L571.8,262.5 L572.2,260.2 L572.5,264.8 L572.9,266.5 L573.2,267.9 L573.6,266.4 L573.9,265.6 L574.3,266.0 L574.6,264.8 L575.0,265.7 L575.3,265.3 L575.7,268.0 L576.0,268.4 L576.4,265.2 L576.7,266.5 L577.1,264.9 L577.4,262.7 L577.8,262.4 L578.1,263.5 L578.5,264.7 L578.8,262.9 L579.2,265.7 L579.5,265.8 L579.9,264.6 L580.2,263.0 L580.6,261.5 L580.9,260.4 L581.3,262.5 L581.6,263.2 L582.0,264.2 L582.3,263.7 L582.7,263.3 L583.0,262.0 L583.4,261.8 L583.7,257.7 L584.1,256.5 L584.4,256.6 L584.8,256.3 L585.1,257.3 L585.5,257.3 L585.8,259.4 L586.2,259.8 L586.5,259.3 L586.9,257.7 L587.2,258.5 L587.6,258.2 L587.9,256.0 L588.3,257.3 L588.6,258.0 L589.0,257.8 L589.3,258.5 L589.7,257.8 L590.0,254.8 L590.4,255.2 L590.7,255.2 L591.1,256.8 L591.4,256.9 L591.8,259.5 L592.1,260.7 L592.5,261.7 L592.8,260.4 L593.2,259.8 L593.5,263.4 L593.9,262.6 L594.2,263.4 L594.6,263.1 L594.9,263.9 L595.3,264.8 L595.6,264.9 L596.0,264.8 L596.3,261.9 L596.7,262.8 L597.0,261.3 L597.4,260.3 L597.7,260.6 L598.1,262.2 L598.4,263.3 L598.8,260.4 L599.1,261.8 L599.5,262.6 L599.8,263.5 L600.2,261.8 L600.5,261.7 L600.9,261.0 L601.2,261.3 L601.6,260.4 L601.9,258.0 L602.3,258.0 L602.6,257.7 L603.0,260.2 L603.3,260.9 L603.7,259.2 L604.0,259.0 L604.4,256.2 L604.7,256.7 L605.1,257.6 L605.4,259.7 L605.8,261.6 L606.1,261.8 L606.5,261.7 L606.8,261.6 L607.2,259.3 L607.5,257.4 L607.9,258.3 L608.2,261.5 L608.6,258.1 L608.9,259.9 L609.3,262.7 L609.6,261.3 L610.0,259.4 L610.3,260.9 L610.7,263.3 L611.0,263.8 L611.4,261.5 L611.7,262.5 L612.1,262.7 L612.4,263.6 L612.8,262.9 L613.1,258.8 L613.5,256.0 L613.8,257.9 L614.2,259.1 L614.5,258.4 L614.9,258.2 L615.2,258.8 L615.6,256.1 L615.9,256.3 L616.3,254.7 L616.6,254.2 L617.0,254.4 L617.3,254.9 L617.7,251.6 L618.0,250.3 L618.4,249.8 L618.7,252.0 L619.1,252.1 L619.4,252.4 L619.8,250.8 L620.1,251.5 L620.5,253.0 L620.8,252.0 L621.2,252.6 L621.5,253.0 L621.9,252.0 L622.2,251.6 L622.6,254.6 L622.9,254.9 L623.3,254.6 L623.6,252.0 L624.0,252.3 L624.3,252.6 L624.7,253.0 L625.0,255.6 L625.4,254.8 L625.7,253.1 L626.1,253.3 L626.4,253.9 L626.8,253.3 L627.1,254.2 L627.5,253.4 L627.8,251.9 L628.2,253.7 L628.5,256.6 L628.9,255.3 L629.2,254.8 L629.6,254.1 L629.9,254.4 L630.3,256.1 L630.6,254.9 L631.0,253.5 L631.3,254.5 L631.7,255.6 L632.0,256.4 L632.4,256.6 L632.7,258.9 L633.1,258.2 L633.4,255.3 L633.8,257.9 L634.1,257.6 L634.5,255.0 L634.8,253.9 L635.2,250.9 L635.5,250.8 L635.9,251.4 L636.2,252.9 L636.6,255.9 L636.9,254.2 L637.3,254.3 L637.6,254.9 L638.0,256.4 L638.3,256.2 L638.7,256.6 L639.0,254.1 L639.4,252.3 L639.7,252.8 L640.1,253.1 L640.4,252.4 L640.8,254.5 L641.1,256.4 L641.5,254.2 L641.8,254.5 L642.2,256.1 L642.5,253.9 L642.9,252.7 L643.2,252.9 L643.6,255.2 L643.9,256.1 L644.3,255.6 L644.6,256.6 L645.0,258.6 L645.3,257.7 L645.7,254.9 L646.0,256.3 L646.4,257.8 L646.7,258.8 L647.1,258.1 L647.4,257.6 L647.8,257.4 L648.1,256.9 L648.5,258.5 L648.8,259.5 L649.2,260.8 L649.5,260.1 L649.9,260.5 L650.2,259.7 L650.6,259.9 L650.9,261.9 L651.3,261.2 L651.6,261.1 L652.0,259.5 L652.3,259.2 L652.7,257.5 L653.0,258.0 L653.4,258.9 L653.7,260.2 L654.1,260.1 L654.4,260.4 L654.8,262.3 L655.1,263.1 L655.5,264.4 L655.8,264.8 L656.2,263.2 L656.5,262.2 L656.9,261.9 L657.2,260.8 L657.6,261.6 L657.9,262.8 L658.3,262.8 L658.6,261.6 L659.0,260.7 L659.3,262.0 L659.7,262.9 L660.0,264.4 L660.4,263.7 L660.7,264.9 L661.1,266.6 L661.4,265.5 L661.8,266.3 L662.1,268.2 L662.5,267.5 L662.8,265.7 L663.2,263.5 L663.5,261.9 L663.9,263.3 L664.2,263.3 L664.6,262.9 L664.9,262.0 L665.3,262.4 L665.6,263.1 L666.0,264.9 L666.3,266.8 L666.7,265.0 L667.0,262.2 L667.4,262.0 L667.7,261.3 L668.1,261.1 L668.4,262.3 L668.8,261.5 L669.1,259.8 L669.5,259.9 L669.8,258.2 L670.2,257.0" stroke="#77ac30" stroke-width="3.65" fill="none" stroke-linejoin="round" stroke-linecap="round"/>
<rect x="392.7" y="24.85" width="107.8" height="49.3" fill="#fff" stroke="#3c3c3c" stroke-width="1"/>
<path d="M398.1,38.2 H450.8" stroke="#000" stroke-width="3.3"/>
<path d="M398.1,60.6 H450.8" stroke="#77ac30" stroke-width="3.3"/>
<g font-family="'Liberation Serif', 'Times New Roman', serif" fill="#262626">
<text transform="translate(455.98,45.30) scale(0.9529,1)" font-size="18.2" fill="#000">Wind</text>
<text transform="translate(455.02,67.70) scale(0.9698,1)" font-size="18.2" fill="#000">Solar</text>
<text transform="translate(58.81,311.40) scale(1.0350,1)" font-size="20.1">0</text>
<text transform="translate(129.91,311.40) scale(1.0091,1)" font-size="20.1">20</text>
<text transform="translate(205.90,311.40) scale(0.9993,1)" font-size="20.1">40</text>
<text transform="translate(281.12,311.40) scale(1.0189,1)" font-size="20.1">60</text>
<text transform="translate(357.24,311.40) scale(0.9918,1)" font-size="20.1">80</text>
<text transform="translate(428.16,311.40) scale(0.9856,1)" font-size="20.1">100</text>
<text transform="translate(503.14,311.40) scale(0.9929,1)" font-size="20.1">120</text>
<text transform="translate(579.86,311.40) scale(0.9856,1)" font-size="20.1">140</text>
<text transform="translate(655.11,311.40) scale(0.9530,1)" font-size="20.1">160</text>
<text x="56.3" y="276.8" font-size="20.1" text-anchor="end">0</text>
<text x="56.3" y="200.4" font-size="20.1" text-anchor="end">5</text>
<text x="56.3" y="124.0" font-size="20.1" text-anchor="end">10</text>
<text x="56.3" y="47.5" font-size="20.1" text-anchor="end">15</text>
<text transform="translate(320.92,336.50) scale(0.9674,1)" font-size="22.1">Time (sec)</text>
<text transform="translate(65.59,23.50) scale(0.9655,1)" font-size="25">×</text>
<text transform="translate(81.29,20.50) scale(0.9688,1)" font-size="20.1">10</text>
<text transform="translate(100.88,11.50) scale(0.8088,1)" font-size="17.5">-3</text>
<text transform="translate(16.50,229.26) rotate(-90) scale(1.1981,1)" font-size="23.3">Δ</text>
<text transform="translate(16.40,205.23) rotate(-90) scale(1.0386,1)" font-size="21">P</text>
<text transform="translate(27.00,192.02) rotate(-90) scale(0.9637,1)" font-size="17">W</text>
<text transform="translate(17.00,170.31) rotate(-90) scale(0.9854,1)" font-size="20.5">and</text>
<text transform="translate(16.50,132.26) rotate(-90) scale(1.1981,1)" font-size="23.3">Δ</text>
<text transform="translate(16.40,109.74) rotate(-90) scale(1.0484,1)" font-size="21">P</text>
<text transform="translate(27.20,96.04) rotate(-90) scale(0.8677,1)" font-size="17">pv</text>
</g>
</svg>
</body></html>
